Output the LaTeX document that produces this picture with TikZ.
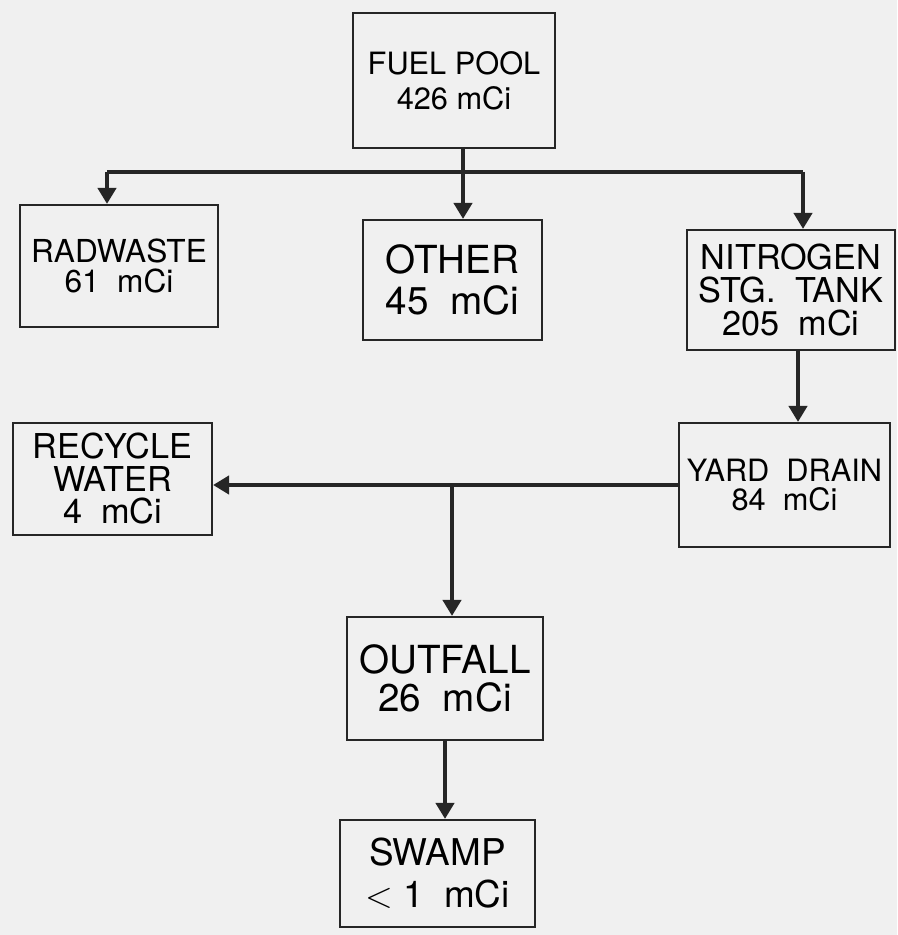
\documentclass[tikz,border=0pt]{standalone}
\usepackage{fontspec}
\setmainfont{TeX Gyre Heros}
\usetikzlibrary{arrows.meta}

\tikzset{
  box/.style 2 args={draw=black!85, line width=1.2pt, align=center, inner sep=0pt,
    font=\fontsize{#1}{#2}\selectfont},
  flow/.style={draw=black!85, line width=2.3pt},
  flowarrow/.style={flow, -{Triangle[width=0.36cm, length=0.32cm]}}
}

\begin{document}
\begin{tikzpicture}[x=0.02cm, y=-0.02cm]
  \fill[black!6] (0,0) rectangle (897,935);
  \useasboundingbox (0,0) rectangle (897,935);
  % boxes
  \node[box={17.5}{20}, minimum width=4.04cm, minimum height=2.7cm] (fuel) at (454,80.5) {FUEL POOL\\426 mCi};
  \node[box={18}{17.5}, minimum width=3.96cm, minimum height=2.44cm] (radwaste) at (119,266) {RADWASTE\\61\ \ mCi};
  \node[box={22}{23}, minimum width=3.58cm, minimum height=2.4cm] (other) at (452.5,280) {OTHER\\45\ \ mCi};
  \node[box={19.5}{19}, minimum width=4.16cm, minimum height=2.4cm] (nitrogen) at (791,290) {NITROGEN\\STG.\ \ TANK\\205\ \ mCi};
  \node[box={17.5}{16.5}, minimum width=4.22cm, minimum height=2.48cm] (yard) at (784.5,485) {YARD\ \ DRAIN\\84\ \ mCi};
  \node[box={19.5}{18.5}, minimum width=3.98cm, minimum height=2.24cm] (recycle) at (112.5,479) {RECYCLE\\WATER\\4\ \ mCi};
  \node[box={22}{21.5}, minimum width=3.92cm, minimum height=2.46cm] (outfall) at (445,678.5) {OUTFALL\\26\ \ mCi};
  \node[box={21}{24}, minimum width=3.9cm, minimum height=2.14cm] (swamp) at (437.5,873.5) {SWAMP\\$<$\ 1\ \ mCi};
  % split points
  \coordinate (left) at (107,172);
  \coordinate (mid) at (463,172);
  \coordinate (right) at (803,172);
  \coordinate (fork) at (452,485);
  % connectors
  \draw[flow] (mid |- fuel.south) -- (mid);
  \draw[flow] (left) -- (right);
  \draw[flowarrow] (left) -- (left |- radwaste.north);
  \draw[flowarrow] (mid) -- (mid |- other.north);
  \draw[flowarrow] (right) -- (right |- nitrogen.north);
  \draw[flowarrow] ([xshift=0.14cm]nitrogen.south) -- ([xshift=0.14cm]nitrogen.south |- yard.north);
  \draw[flowarrow] (yard.west) -- (yard.west -| recycle.east);
  \draw[flowarrow] (fork) -- (fork |- outfall.north);
  \draw[flowarrow] (outfall.south) -- (outfall.south |- swamp.north);
\end{tikzpicture}
\end{document}
